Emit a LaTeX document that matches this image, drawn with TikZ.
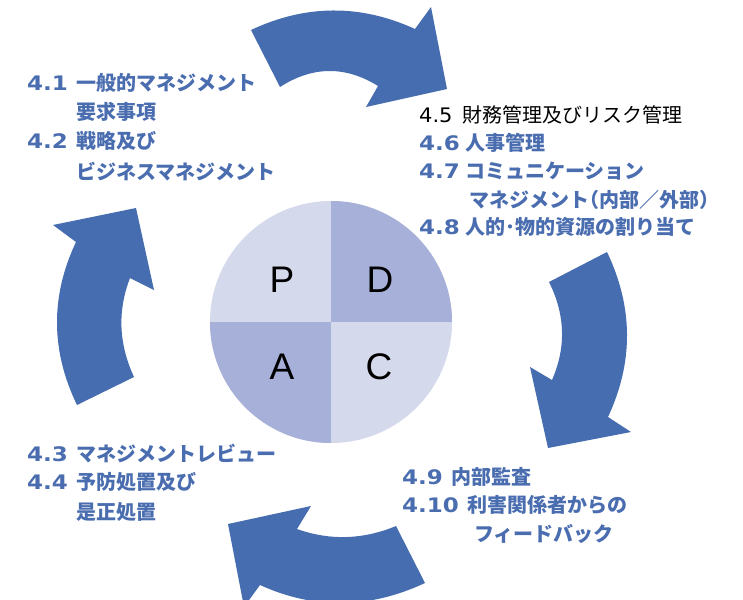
\documentclass[tikz,border=0pt]{standalone}
\usepackage{graphicx}
\usepackage{fontspec}
\setmainfont{Liberation Sans}
\newfontfamily\jpf{Noto Sans CJK JP}
\newfontfamily\numf{DejaVu Sans}
\definecolor{arrowblue}{HTML}{466DB0}
\definecolor{textblue}{HTML}{4A6DB0}
\definecolor{pielight}{HTML}{D5D9EC}
\definecolor{piedark}{HTML}{A7B0D8}
\newcommand{\itemnum}[2]{\makebox[#1pt][l]{\scalebox{1.15}[1]{\numf\bfseries #2}}}
\tikzset{
  cyclearrow/.style={fill=arrowblue, draw=none},
  itemline/.style={anchor=base west, inner sep=0pt, text=textblue, font=\fontsize{20}{24}\selectfont\jpf\bfseries},
  plainline/.style={anchor=base west, inner sep=0pt, text=black, font=\fontsize{20}{24}\selectfont\jpf},
  letter/.style={inner sep=0pt, font=\fontsize{37}{40}\selectfont, text=black}
}
\begin{document}
\begin{tikzpicture}[x=1pt,y=-1pt]
\useasboundingbox (0,0) rectangle (743,599);
\clip (0,0) rectangle (743,599);
\fill[white] (0,0) rectangle (743,599);

% cycle arrows
\fill[cyclearrow] (251,30) .. controls (305.7,4.3) and (360.3,4) .. (415,29) -- (431,7) -- (447,89) -- (366,107) -- (378,86) .. controls (345.3,65.7) and (312.7,66) .. (280,87) -- cycle;
\fill[cyclearrow] (607,252) .. controls (633.3,307) and (633.7,362) .. (608,417) -- (631,432) -- (548,448) -- (530,367) -- (552,380) .. controls (566.3,347.3) and (565.3,314.7) .. (549,282) -- cycle;
\fill[cyclearrow] (425,583) .. controls (369.3,609) and (314.3,609.7) .. (260,585) -- (244,607) -- (228,524) -- (311,506) -- (297,529) .. controls (330,540.7) and (363,539.7) .. (396,526) -- cycle;
\fill[cyclearrow] (77,405) .. controls (50.7,350.7) and (50.3,296.3) .. (76,242) -- (53,225) -- (136,208) -- (154,290) -- (130,278) .. controls (117.3,311) and (118.7,344) .. (134,377) -- cycle;

% PDCA pie
\fill[pielight] (331,322) circle[radius=121pt];
\begin{scope}
  \clip (331,322) circle[radius=121pt];
  \fill[piedark] (331,322) rectangle (460,190);
  \fill[piedark] (200,322) rectangle (331,450);
\end{scope}
\node[letter] (p) at (282,280) {P};
\node[letter] (d) at (380,280) {D};
\node[letter] (a) at (282,366.5) {A};
\node[letter] (c) at (379,366.5) {C};

% top-left block
\node[itemline] (t41) at (27,90.5) {\itemnum{49}{4.1}一般的マネジメント};
\node[itemline] (t41b) at (76,119.5) {要求事項};
\node[itemline] (t42) at (27,148) {\itemnum{49}{4.2}戦略及び};
\node[itemline] (t42b) at (76,179) {ビジネスマネジメント};

% top-right block
\node[plainline] (t45) at (419,122.5) {\makebox[43pt][l]{\scalebox{1.05}[1]{\numf 4.5}}財務管理及びリスク管理};
\node[itemline] (t46) at (419,150.5) {\itemnum{46}{4.6}人事管理};
\node[itemline] (t47) at (419,178.5) {\itemnum{46}{4.7}コミュニケーション};
\node[itemline] (t47b) at (469,207) {マネジメント\kern-10pt（内部／外部）};
\node[itemline] (t48) at (419,234) {\itemnum{46}{4.8}人的･物的資源の割り当て};

% bottom-left block
\node[itemline] (t43) at (27,461) {\itemnum{49}{4.3}マネジメントレビュー};
\node[itemline] (t44) at (27,489.5) {\itemnum{49}{4.4}予防処置及び};
\node[itemline] (t44b) at (76,519.5) {是正処置};

% bottom-right block
\node[itemline] (t49) at (402,484.5) {\itemnum{49}{4.9}内部監査};
\node[itemline] (t410) at (402,512.5) {\itemnum{65}{4.10}利害関係者からの};
\node[itemline] (t410b) at (474,541) {フィードバック};
\end{tikzpicture}
\end{document}
